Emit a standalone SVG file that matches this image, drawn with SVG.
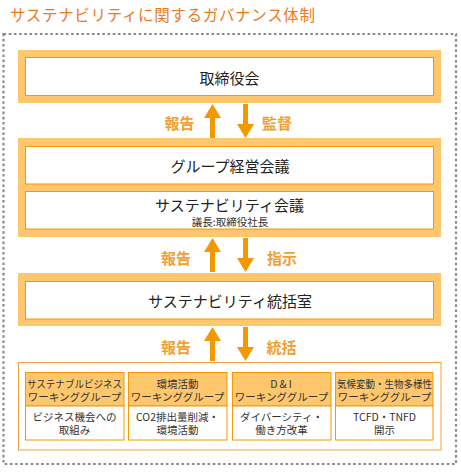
<svg xmlns="http://www.w3.org/2000/svg" width="461" height="473" viewBox="0 0 461 473">
<style>
text{font-family:"Noto Sans CJK JP","Noto Sans",sans-serif;}
.title{font-size:15.5px;fill:#EC7A1C;}
.band{fill:#FFC76D;}
.inner{fill:#fff;stroke:#F39800;stroke-width:1;}
.main{font-size:15px;fill:#222;text-anchor:middle;}
.sub{font-size:10.5px;fill:#333;text-anchor:middle;}
.lbl{font-size:15px;font-weight:bold;fill:#F2A033;text-anchor:middle;}
.arrow{fill:#F39800;}
.hdr{fill:#FFC76D;stroke:#F39800;stroke-width:1;}
.body{fill:#fff;stroke:#F39800;stroke-width:1;}
.sm{font-size:10.5px;fill:#333;text-anchor:middle;}
</style>
<defs>
<path id="up" d="M0,0 L8.5,14 L2.5,14 L2.5,34 L-2.5,34 L-2.5,14 L-8.5,14 Z"/>
<path id="down" d="M0,0 L8.5,-14 L2.5,-14 L2.5,-34 L-2.5,-34 L-2.5,-14 L-8.5,-14 Z"/>
</defs>
<rect width="461" height="473" fill="#fff"/>
<text class="title" x="10" y="21" textLength="305">サステナビリティに関するガバナンス体制</text>
<rect x="3.5" y="34" width="452.5" height="430" fill="none" stroke="#8A8A8A" stroke-width="2.2" stroke-dasharray="2.6 2.6"/>

<g id="board">
<rect class="band" x="18" y="50" width="423" height="53"/>
<rect class="inner" x="25.5" y="57.5" width="408" height="38"/>
<text class="main" x="229.5" y="77" dominant-baseline="central">取締役会</text>
</g>

<g id="management">
<rect class="band" x="18" y="138" width="423" height="99"/>
<rect class="inner" x="25.5" y="146.5" width="408" height="37.5"/>
<text class="main" x="230" y="165.5" dominant-baseline="central">グループ経営会議</text>
<rect class="inner" x="25.5" y="191.5" width="408" height="37.5"/>
<text class="main" x="229.5" y="204.5" dominant-baseline="central">サステナビリティ会議</text>
<text class="sub" x="230" y="221" dominant-baseline="central">議長:取締役社長</text>
</g>

<g id="office">
<rect class="band" x="18" y="273" width="423" height="53"/>
<rect class="inner" x="25.5" y="281.5" width="408" height="37.5"/>
<text class="main" x="230" y="300.5" dominant-baseline="central">サステナビリティ統括室</text>
</g>

<g id="connectors">
<use href="#up" class="arrow" x="212.5" y="104"/>
<use href="#down" class="arrow" x="245.5" y="138"/>
<text class="lbl" x="179.5" y="122" dominant-baseline="central">報告</text>
<text class="lbl" x="277" y="122" dominant-baseline="central">監督</text>
<use href="#up" class="arrow" x="212.5" y="238"/>
<use href="#down" class="arrow" x="245.5" y="272"/>
<text class="lbl" x="176" y="257" dominant-baseline="central">報告</text>
<text class="lbl" x="282" y="257" dominant-baseline="central">指示</text>
<use href="#up" class="arrow" x="212.5" y="327"/>
<use href="#down" class="arrow" x="245.5" y="361"/>
<text class="lbl" x="176" y="346" dominant-baseline="central">報告</text>
<text class="lbl" x="281.5" y="346" dominant-baseline="central">統括</text>
</g>

<g id="working-groups">
<rect x="18.5" y="362.5" width="422.5" height="87.5" fill="#fff" stroke="#F0A040" stroke-width="1"/>
</g>

<g id="wg1">
<rect class="hdr" x="25.5" y="372.5" width="98.5" height="33.5"/>
<rect class="body" x="25.5" y="406" width="98.5" height="34"/>
<text class="sm" x="74.5" y="388" textLength="95" lengthAdjust="spacingAndGlyphs">サステナブルビジネス</text>
<text class="sm" x="74.5" y="401">ワーキンググループ</text>
<text class="sm" x="74.5" y="421">ビジネス機会への</text>
<text class="sm" x="74.5" y="434">取組み</text>
</g>

<g id="wg2">
<rect class="hdr" x="128.5" y="372.5" width="98.5" height="33.5"/>
<rect class="body" x="128.5" y="406" width="98.5" height="34"/>
<text class="sm" x="177.5" y="388">環境活動</text>
<text class="sm" x="177.5" y="401">ワーキンググループ</text>
<text class="sm" x="177.5" y="421">CO2排出量削減・</text>
<text class="sm" x="177.5" y="434">環境活動</text>
</g>

<g id="wg3">
<rect class="hdr" x="232.5" y="372.5" width="98.5" height="33.5"/>
<rect class="body" x="232.5" y="406" width="98.5" height="34"/>
<text class="sm" x="282" y="388" letter-spacing="2">D&amp;I</text>
<text class="sm" x="281.5" y="401">ワーキンググループ</text>
<text class="sm" x="281.5" y="421">ダイバーシティ・</text>
<text class="sm" x="281.5" y="434">働き方改革</text>
</g>

<g id="wg4">
<rect class="hdr" x="335.5" y="372.5" width="97.5" height="33.5"/>
<rect class="body" x="335.5" y="406" width="97.5" height="34"/>
<text class="sm" x="384.5" y="388" textLength="95" lengthAdjust="spacingAndGlyphs">気候変動・生物多様性</text>
<text class="sm" x="384.5" y="401">ワーキンググループ</text>
<text class="sm" x="384.5" y="421">TCFD・TNFD</text>
<text class="sm" x="384.5" y="434">開示</text>
</g>
</svg>
